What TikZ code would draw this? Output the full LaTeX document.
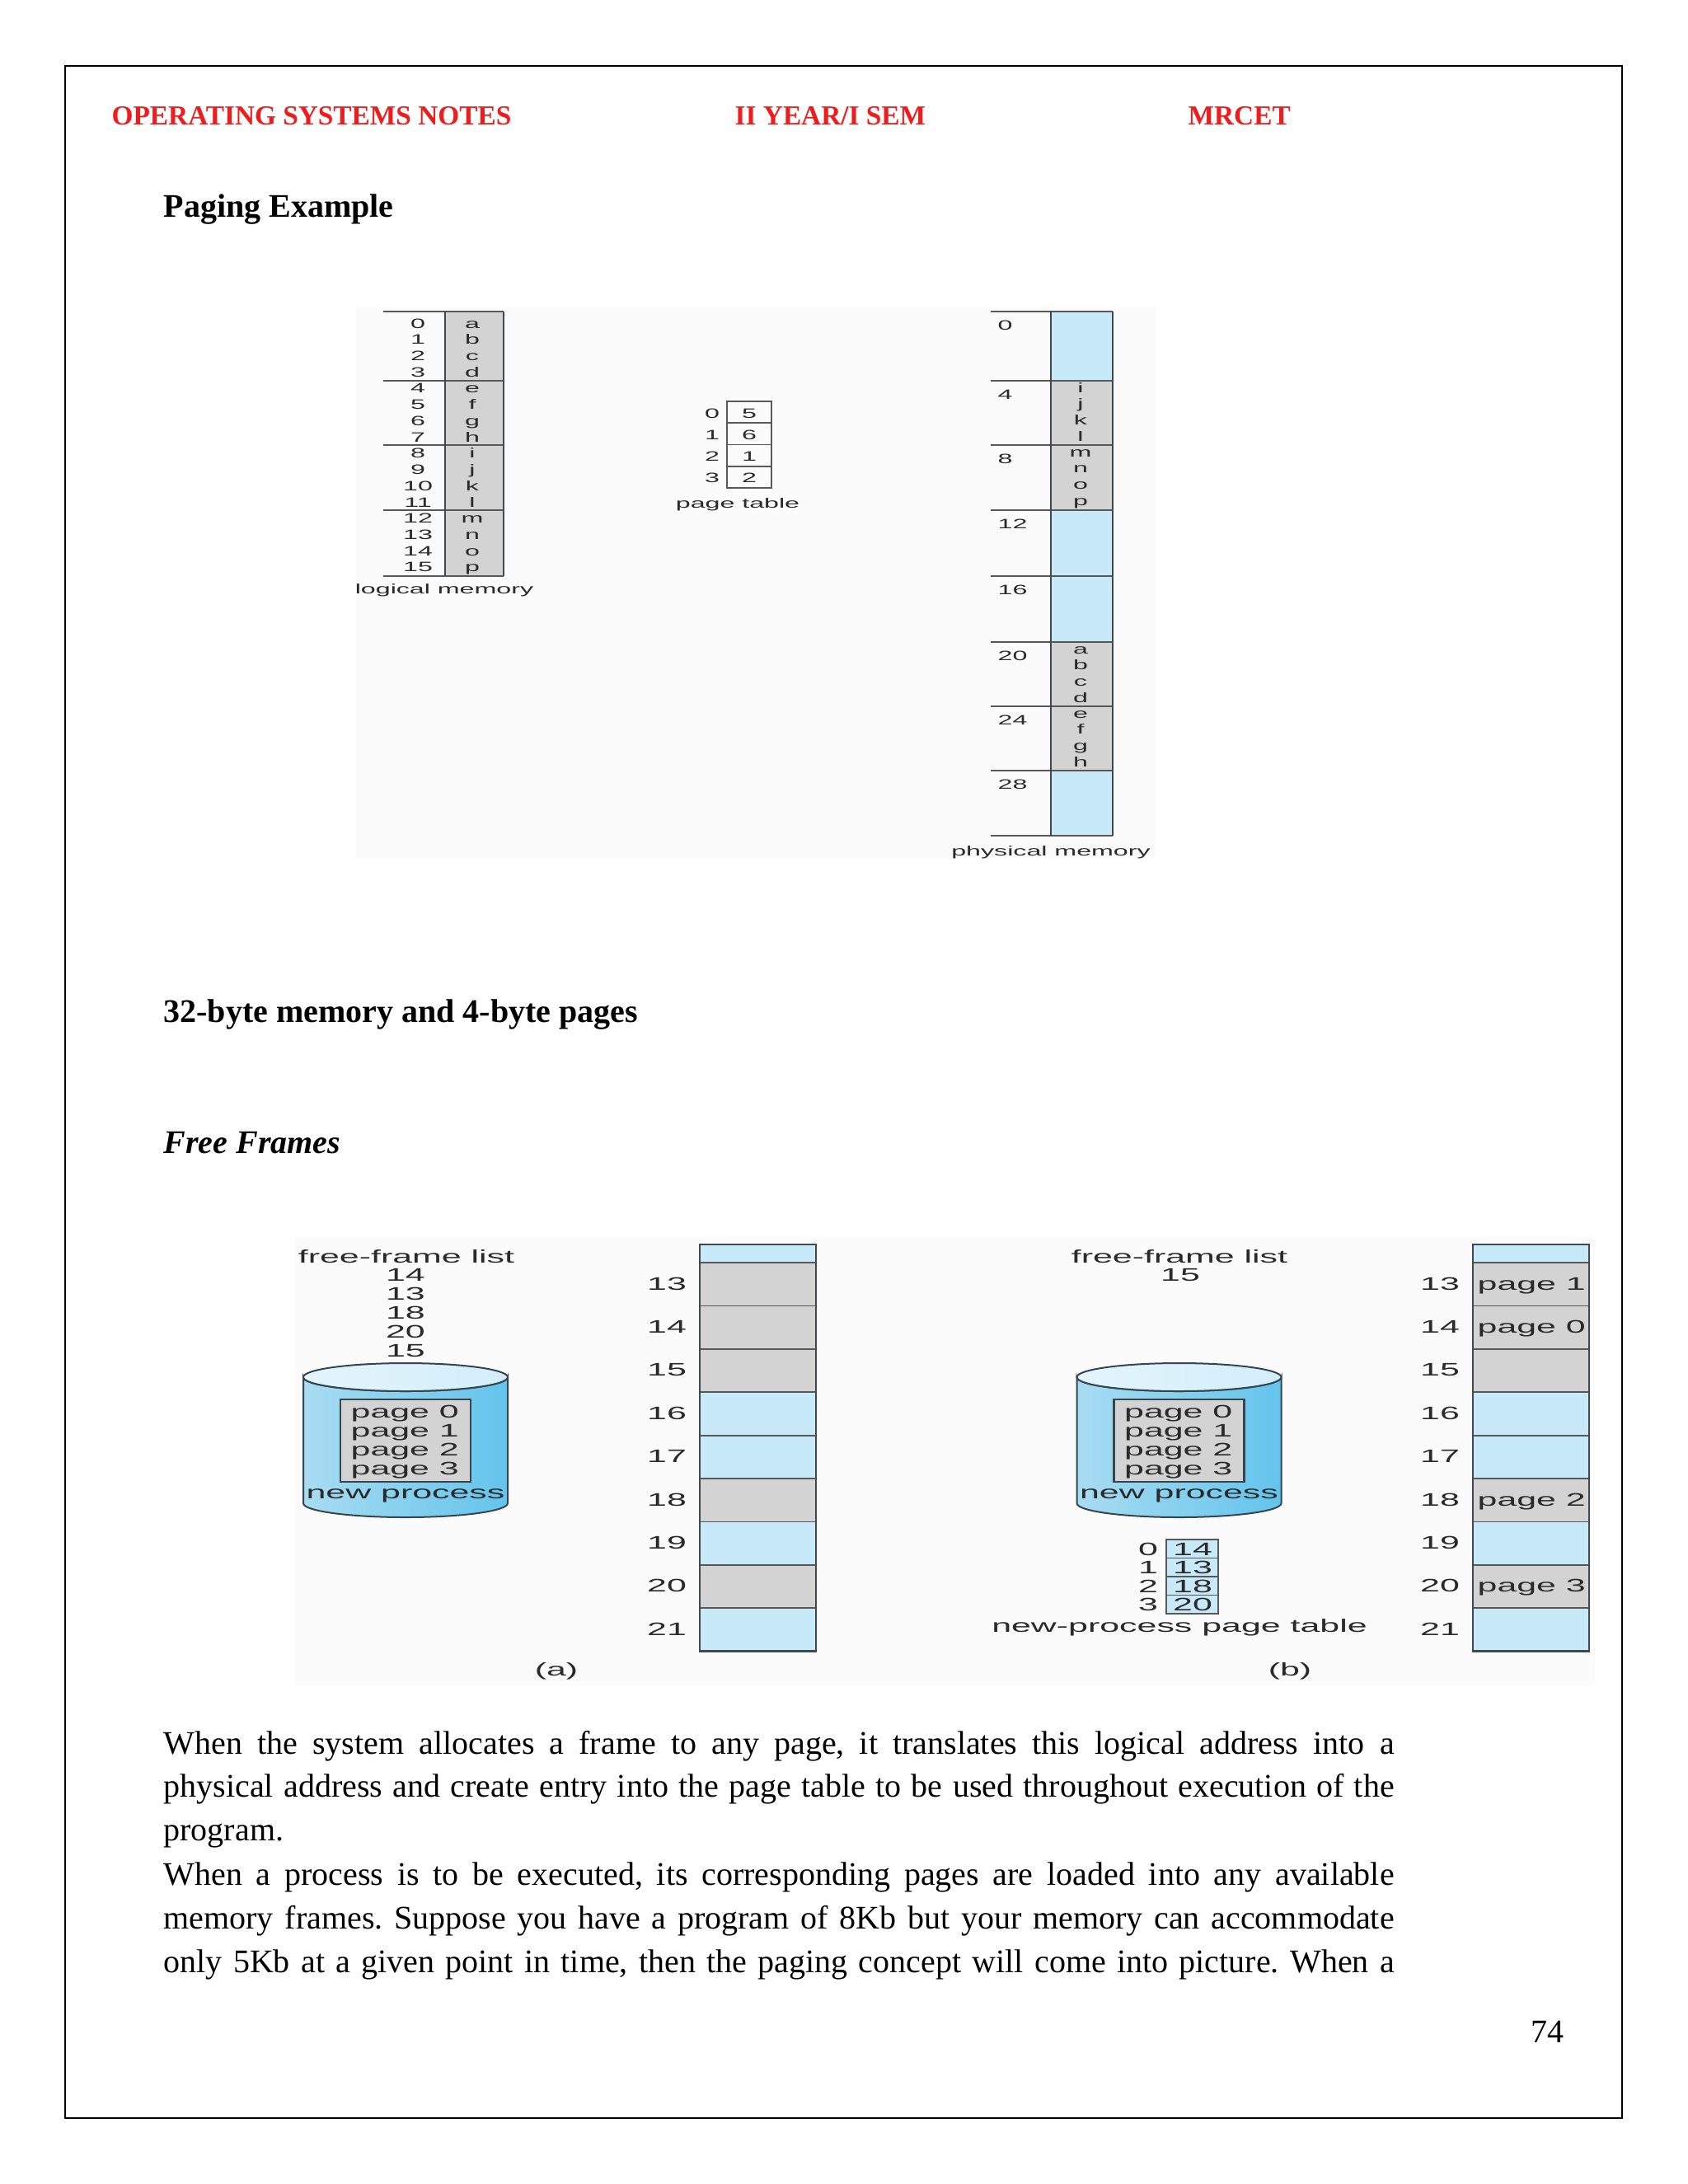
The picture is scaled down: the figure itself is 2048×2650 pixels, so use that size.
\documentclass[tikz,border=0pt]{standalone}
\usepackage{fontspec}
\setmainfont{Liberation Serif}
\newfontfamily\figfont[FakeStretch=1.95]{Liberation Sans}
\usetikzlibrary{positioning}
\definecolor{hdred}{HTML}{EE1C1C}
\definecolor{frameblue}{HTML}{C8E9F8}
\definecolor{framegray}{HTML}{D3D3D3}
\definecolor{memline}{HTML}{585858}
\definecolor{memedge}{HTML}{3F4A50}
\definecolor{figtext}{HTML}{2A2A2A}
\definecolor{figbg}{HTML}{FBFBFB}
\definecolor{cylleft}{HTML}{A9DCF2}
\definecolor{cylmid}{HTML}{DDF2FB}
\definecolor{cylright}{HTML}{63C4EC}
\definecolor{cyltop}{HTML}{D2EEFA}
\definecolor{cylline}{HTML}{36464F}
\newlength{\parwd}
\setlength{\parwd}{447.9pt}
\frenchspacing
\tikzset{
  hdrtext/.style={font=\fontsize{10}{12}\selectfont\bfseries, text=hdred,
    anchor=base west, inner sep=0pt},
  headtext/.style={font=\fontsize{12}{14}\selectfont\bfseries,
    anchor=base west, inner sep=0pt},
  bodytext/.style={font=\fontsize{12}{16}\selectfont,
    anchor=base west, inner sep=0pt},
  figsmall/.style={font=\figfont\fontsize{4.95}{6}\selectfont, text=figtext,
    anchor=base, inner sep=0pt},
  figlarge/.style={font=\figfont\fontsize{6.6}{7.8}\selectfont, text=figtext,
    anchor=base, inner sep=0pt},
  rowline/.style={draw=memline, line width=0.55pt},
  coledge/.style={draw=memedge, line width=0.7pt},
  diskbody/.style={draw=cylline, line width=0.6pt,
    left color=cylleft, middle color=cylmid, right color=cylright},
  disktop/.style={draw=cylline, line width=0.6pt,
    left color=cyltop!60!white, right color=cyltop},
}

\begin{document}
\begin{tikzpicture}[x=0.3pt, y=-0.3pt]
  \useasboundingbox (0,0) rectangle (2048,2650);
  \fill[white] (0,0) rectangle (2048,2650);
  \draw[line width=0.6pt] (79,80) rectangle (1968,2570);

  % page header
  \node[hdrtext] (hdrleft) at (135,151) {OPERATING SYSTEMS NOTES};
  \node[hdrtext] (hdrmid) at (891,151) {II YEAR/I SEM};
  \node[hdrtext] (hdrright) at (1441,151) {MRCET};

  \node[headtext] (pagingtitle) at (198,263) {Paging Example};

  % paging example
  \fill[figbg] (432,372) rectangle (1402,1042);

  % logical memory
  \fill[framegray] (540,378) rectangle (611,699);
  \foreach \ly in {378,462,540,619,699}
    \draw[rowline] (465,\ly) -- (611,\ly);
  \draw[coledge] (540,378) -- (540,699);
  \draw[coledge] (611,378) -- (611,699);
  \foreach \ch [count=\i from 0] in {a,...,p} {
    \node[figsmall] (laddr\i) at (507,{398+19.73*\i}) {\i};
    \node[figsmall] (lbyte\i) at (573,{398+19.73*\i}) {\ch};
  }
  \node[figsmall] (logicallbl) at (539,720) {logical memory};

  % page table
  \foreach \pg/\fr in {0/5,1/6,2/1,3/2} {
    \draw[rowline] (882,{487+26.25*\pg}) rectangle (936,{513.25+26.25*\pg});
    \node[figsmall] (ptidx\pg) at (864,{507+26.25*\pg}) {\pg};
    \node[figsmall] (ptval\pg) at (909,{507+26.25*\pg}) {\fr};
  }
  \node[figsmall] (ptlabel) at (895,616) {page table};

  % physical memory
  \foreach \f/\ftop/\fbot/\fc in {0/378/462/frameblue, 1/462/540/framegray,
      2/540/619/framegray, 3/619/699/frameblue, 4/699/779/frameblue,
      5/779/857/framegray, 6/857/935/framegray, 7/935/1014/frameblue} {
    \fill[\fc] (1275,\ftop) rectangle (1350,\fbot);
    \draw[rowline] (1202,\ftop) -- (1350,\ftop);
    \pgfmathtruncatemacro{\addr}{4*\f}
    \node[figsmall, anchor=base west] (paddr\f) at (1210,\ftop+22) {\addr};
  }
  \draw[rowline] (1202,1014) -- (1350,1014);
  \draw[coledge] (1275,378) -- (1275,1014);
  \draw[coledge] (1350,378) -- (1350,1014);
  \foreach \ftop/\chars in {462/{i,j,k,l}, 540/{m,n,o,p},
      779/{a,b,c,d}, 857/{e,f,g,h}} {
    \foreach \ch [count=\k from 0] in \chars
      \node[figsmall] (pbyte\ch) at (1311,{\ftop+14+19.73*\k}) {\ch};
  }
  \node[figsmall] (physlbl) at (1275,1038) {physical memory};

  \node[headtext] (bytetitle) at (198,1240) {32-byte memory and 4-byte pages};
  \node[headtext, font=\fontsize{12}{14}\selectfont\bfseries\itshape]
    (freetitle) at (198,1399) {Free Frames};

  % free frames
  \fill[figbg] (358,1500) rectangle (1935,2045);

  % new process on disk
  \foreach \cx/\tag in {492/a, 1430.5/b} {
    \path[diskbody] (\cx-124,1671) -- (\cx-124,1824)
      arc[start angle=180, end angle=0, x radius=124, y radius=17]
      -- (\cx+124,1671)
      arc[start angle=0, end angle=180, x radius=124, y radius=17] -- cycle;
    \path[disktop] (\cx,1671) ellipse[x radius=124, y radius=17];
    \draw[draw=cylline, fill=framegray, line width=0.8pt]
      (\cx-79,1698) rectangle (\cx+79,1798);
    \foreach \pg in {0,...,3}
      \node[figlarge, anchor=base west] (disk\tag\pg) at (\cx-67,{1720+23*\pg}) {page \pg};
    \node[figlarge] (disk\tag-label) at (\cx,1818) {new process};
  }

  % free-frame lists
  \node[figlarge] (fflista) at (493,1532) {free-frame list};
  \foreach \fr [count=\n from 0] in {14,13,18,20,15}
    \node[figlarge] (ffa\fr) at (492,{1554+23*\n}) {\fr};
  \node[figlarge] (fflistb) at (1431,1532) {free-frame list};
  \node[figlarge] (ffb15) at (1432,1554) {15};

  % new-process page table
  \foreach \pg/\fr in {0/14,1/13,2/18,3/20} {
    \draw[rowline, fill=frameblue] (1415,{1868+22.5*\pg}) rectangle (1478,{1890.5+22.5*\pg});
    \node[figlarge] (nptidx\pg) at (1393,{1887+22.5*\pg}) {\pg};
    \node[figlarge] (nptval\pg) at (1447,{1887+22.5*\pg}) {\fr};
  }
  \node[figlarge] (nptlabel) at (1431,1980) {new-process page table};

  % memory frames 13..21
  \foreach \colx/\numx in {849/809, 1787/1747} {
    \fill[frameblue] (\colx,1510) rectangle (\colx+141,1532);
    \foreach \k/\fc in {13/framegray,14/framegray,15/framegray,16/frameblue,
        17/frameblue,18/framegray,19/frameblue,20/framegray,21/frameblue} {
      \fill[\fc] (\colx,{1532+52.4*(\k-13)}) rectangle ++(141,52.4);
      \draw[rowline] (\colx,{1532+52.4*(\k-13)}) -- ++(141,0);
      \node[figlarge] (frame\numx-\k) at (\numx,{1565+52.4*(\k-13)}) {\k};
    }
    \draw[coledge] (\colx,1510) rectangle (\colx+141,2003.6);
  }
  \foreach \k/\pg in {13/1,14/0,18/2,20/3}
    \node[figlarge, anchor=base west] (memb\k) at (1792,{1565+52.4*(\k-13)}) {page \pg};

  \node[figlarge] (capa) at (675,2033) {(a)};
  \node[figlarge] (capb) at (1565,2033) {(b)};

  % body text
  \node[bodytext] (para1a) at (198,2128) {\makebox[\parwd][s]{When the system allocates a frame to any page, it translates this logical address into a}};
  \node[bodytext] (para1b) at (198,2180) {\makebox[\parwd][s]{physical address and create entry into the page table to be used throughout execution of the}};
  \node[bodytext] (para1c) at (198,2233) {program.};
  \node[bodytext] (para2a) at (198,2287) {\makebox[\parwd][s]{When a process is to be executed, its corresponding pages are loaded into any available}};
  \node[bodytext] (para2b) at (198,2340) {\makebox[\parwd][s]{memory frames. Suppose you have a program of 8Kb but your memory can accommodate}};
  \node[bodytext] (para2c) at (198,2393) {\makebox[\parwd][s]{only 5Kb at a given point in time, then the paging concept will come into picture. When a}};

  \node[bodytext] (pagenum) at (1857,2478) {74};
\end{tikzpicture}
\end{document}
